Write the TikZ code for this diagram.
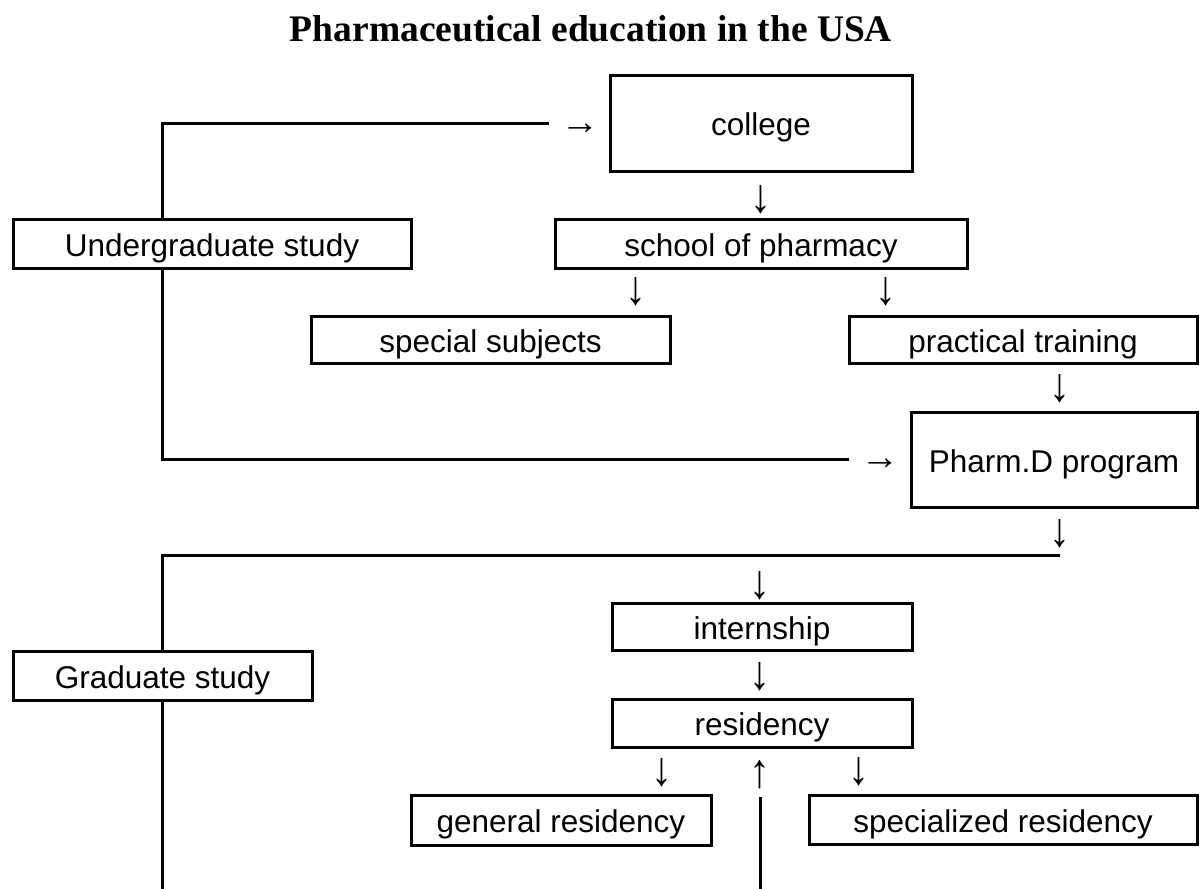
\documentclass[tikz,border=0pt]{standalone}
\usepackage{fontspec}
\usepackage{graphicx}
\setmainfont{Liberation Sans}
\newfontfamily\titlefont{Liberation Serif}
\newfontfamily\arrowfont{Liberation Serif}
\newcommand{\vglyph}[1]{\scalebox{1.35}[1.55]{#1}}
\newcommand{\hglyph}[1]{\scalebox{1.25}[1.2]{#1}}
\begin{document}
\begin{tikzpicture}[x=1pt,y=-1pt,
  box/.style={draw, line width=3pt, inner sep=0pt, text height=31pt, text depth=6pt, font=\fontsize{31.5}{36}\selectfont},
  arr/.style={inner sep=0pt, font=\arrowfont\fontsize{31}{36}\selectfont},
  conn/.style={line width=3pt, line join=miter}]
\useasboundingbox (0,0) rectangle (1200,889);
\node[font=\titlefont\bfseries\fontsize{37.5}{45}\selectfont, anchor=base] (title) at (591,41) {Pharmaceutical education in the USA};
% boxes
\node[box, minimum width=302pt, minimum height=96pt] (college) at (761,123) {college};
\node[box, minimum width=398pt, minimum height=49pt] (under) at (212,243.5) {Undergraduate study};
\node[box, minimum width=412pt, minimum height=49pt] (school) at (761,243.5) {school of pharmacy};
\node[box, minimum width=359pt, minimum height=47pt] (special) at (490.5,340) {special subjects};
\node[box, minimum width=348pt, minimum height=47pt] (practical) at (1023,340) {practical training};
\node[box, minimum width=286pt, minimum height=95pt] (pharmd) at (1054,459.5) {Pharm.D program};
\node[box, minimum width=299pt, minimum height=49pt] (grad) at (162.5,675.5) {Graduate study};
\node[box, minimum width=300pt, minimum height=47pt] (intern) at (762,626.5) {internship};
\node[box, minimum width=300pt, minimum height=48pt] (resid) at (762,723) {residency};
\node[box, minimum width=300pt, minimum height=50pt] (general) at (561,820) {general residency};
\node[box, minimum width=388pt, minimum height=49pt] (specres) at (1003,819.5) {specialized residency};
% arrow glyphs
\node[arr] (ar1) at (580,129) {\hglyph{→}};
\node[arr] (ar2) at (761,200) {\vglyph{↓}};
\node[arr] (ar3) at (636,292) {\vglyph{↓}};
\node[arr] (ar4) at (886,292) {\vglyph{↓}};
\node[arr] (ar5) at (1060,389) {\vglyph{↓}};
\node[arr] (ar6) at (880,464) {\hglyph{→}};
\node[arr] (ar7) at (1060,534) {\vglyph{↓}};
\node[arr] (ar8) at (760,586) {\vglyph{↓}};
\node[arr] (ar9) at (760,677) {\vglyph{↓}};
\node[arr] (ar10) at (662,773) {\vglyph{↓}};
\node[arr] (ar11) at (760,775) {\vglyph{↑}};
\node[arr] (ar12) at (859,772) {\vglyph{↓}};
% connectors
\coordinate (lx) at (162,0);
\coordinate (p1) at (549,123);
\coordinate (p2) at (849,459);
\coordinate (p3) at (1060,555);
\coordinate (p4) at (162,889);
\coordinate (p5) at (760,797);
\coordinate (p6) at (760,889);
\draw[conn] (under.north -| lx) |- (p1);
\draw[conn] (under.south -| lx) |- (p2);
\draw[conn] (grad.north -| lx) |- (p3);
\draw[conn] (grad.south -| lx) -- (p4);
\draw[conn] (p5) -- (p6);
\end{tikzpicture}
\end{document}
